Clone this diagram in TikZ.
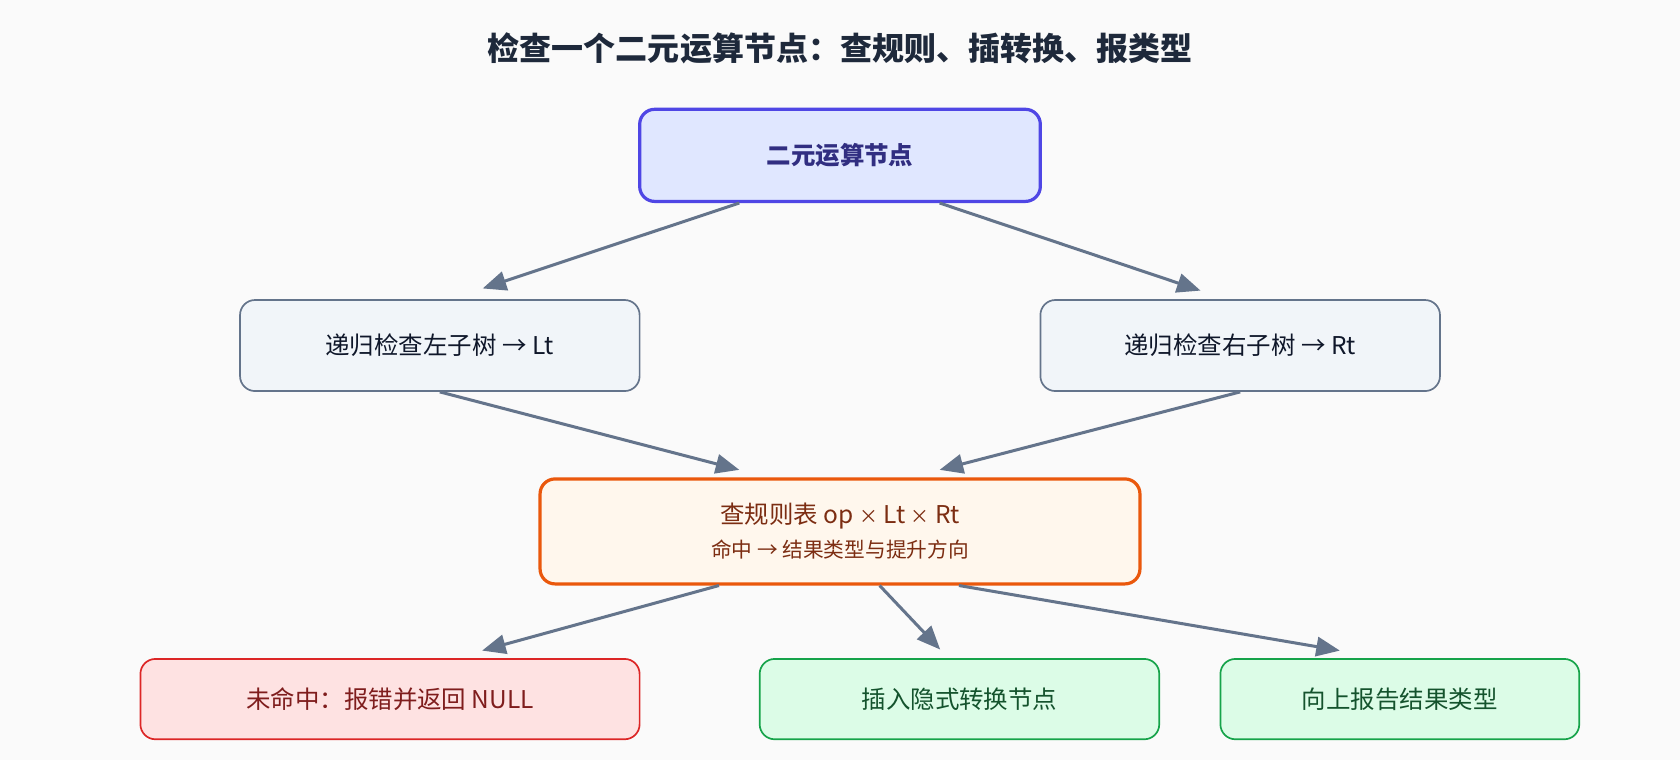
\documentclass[tikz,border=0pt]{standalone}
\usepackage{fontspec}
\setmainfont{Noto Sans CJK SC}
\usetikzlibrary{arrows.meta, positioning, calc}
\definecolor{bgc}{HTML}{FAFAFA}
\definecolor{arrc}{HTML}{64748B}
\definecolor{topfill}{HTML}{E0E7FF}\definecolor{topdraw}{HTML}{4F46E5}\definecolor{toptext}{HTML}{312E81}
\definecolor{subfill}{HTML}{F1F5F9}\definecolor{subtext}{HTML}{0F172A}
\definecolor{rulefill}{HTML}{FFF7ED}\definecolor{ruledraw}{HTML}{EA580C}\definecolor{ruletext}{HTML}{7C2D12}
\definecolor{errfill}{HTML}{FEE2E2}\definecolor{errdraw}{HTML}{DC2626}\definecolor{errtext}{HTML}{7F1D1D}
\definecolor{okfill}{HTML}{DCFCE7}\definecolor{okdraw}{HTML}{16A34A}\definecolor{oktext}{HTML}{14532D}
\definecolor{titletext}{HTML}{1E293B}
\begin{document}
\begin{tikzpicture}[x=0.02cm, y=-0.02cm,
            box/.style={rectangle, rounded corners=0.28cm, align=center, font=\fontsize{13}{16}\selectfont, inner sep=0pt},
            arrow/.style={-{Triangle[length=0.44cm, width=0.36cm]}, line width=1.6pt, draw=arrc}
        ]

% background
            \fill[bgc] (0,0) rectangle (1568,709);
            \node[font=\fontsize{17}{20}\selectfont\bfseries, text=titletext] (title) at (784,45) {检查一个二元运算节点：查规则、插转换、报类型};

% binary node and subtrees
            \node[box, fill=topfill, draw=topdraw, line width=1.7pt, minimum width=7.48cm, minimum height=1.72cm, text=toptext, font=\fontsize{13}{16}\selectfont\bfseries] (bin) at (784,145) {二元运算节点};
            \node[box, fill=subfill, draw=arrc, line width=0.9pt, minimum width=7.46cm, minimum height=1.7cm, text=subtext] (lsub) at (410.5,322.5) {递归检查左子树 → Lt};
            \node[box, fill=subfill, draw=arrc, line width=0.9pt, minimum width=7.46cm, minimum height=1.7cm, text=subtext] (rsub) at (1157.5,322.5) {递归检查右子树 → Rt};

% rule table lookup
            \node[box, fill=rulefill, draw=ruledraw, line width=1.7pt, minimum width=11.2cm, minimum height=1.96cm, text=ruletext] (rule) at (784,496) {查规则表 op {\fontsize{10}{12}\selectfont ×} Lt {\fontsize{10}{12}\selectfont ×} Rt\\[2pt]{\fontsize{11}{13}\selectfont 命中 → 结果类型与提升方向}};

% outcomes
            \node[box, fill=errfill, draw=errdraw, line width=0.9pt, minimum width=9.32cm, minimum height=1.5cm, text=errtext] (err) at (364,652.5) {未命中：报错并返回 NULL};
            \node[box, fill=okfill, draw=okdraw, line width=0.9pt, minimum width=7.46cm, minimum height=1.5cm, text=oktext] (cast) at (895.5,652.5) {插入隐式转换节点};
            \node[box, fill=okfill, draw=okdraw, line width=0.9pt, minimum width=6.7cm, minimum height=1.5cm, text=oktext] (report) at (1306.5,652.5) {向上报告结果类型};

% connectors
            \coordinate (lin) at ([xshift=0.8cm, yshift=0.2cm]lsub.north);
            \coordinate (rin) at ([xshift=-0.74cm, yshift=0.16cm]rsub.north);
            \coordinate (rulel) at ([xshift=-1.88cm, yshift=0.14cm]rule.north);
            \coordinate (ruler) at ([xshift=1.86cm, yshift=0.14cm]rule.north);
            \coordinate (errin) at ([xshift=1.72cm, yshift=0.14cm]err.north);
            \coordinate (castin) at ([xshift=-0.36cm, yshift=0.16cm]cast.north);
            \coordinate (repin) at ([xshift=-1.12cm, yshift=0.14cm]report.north);
            \draw[arrow] ([xshift=-1.88cm]bin.south) -- (lin);
            \draw[arrow] ([xshift=1.86cm]bin.south) -- (rin);
            \draw[arrow] (lsub.south) -- (rulel);
            \draw[arrow] (rsub.south) -- (ruler);
            \draw[arrow] ([xshift=-2.26cm]rule.south) -- (errin);
            \draw[arrow] ([xshift=0.74cm]rule.south) -- (castin);
            \draw[arrow] ([xshift=2.22cm]rule.south) -- (repin);

        \end{tikzpicture}
\end{document}
